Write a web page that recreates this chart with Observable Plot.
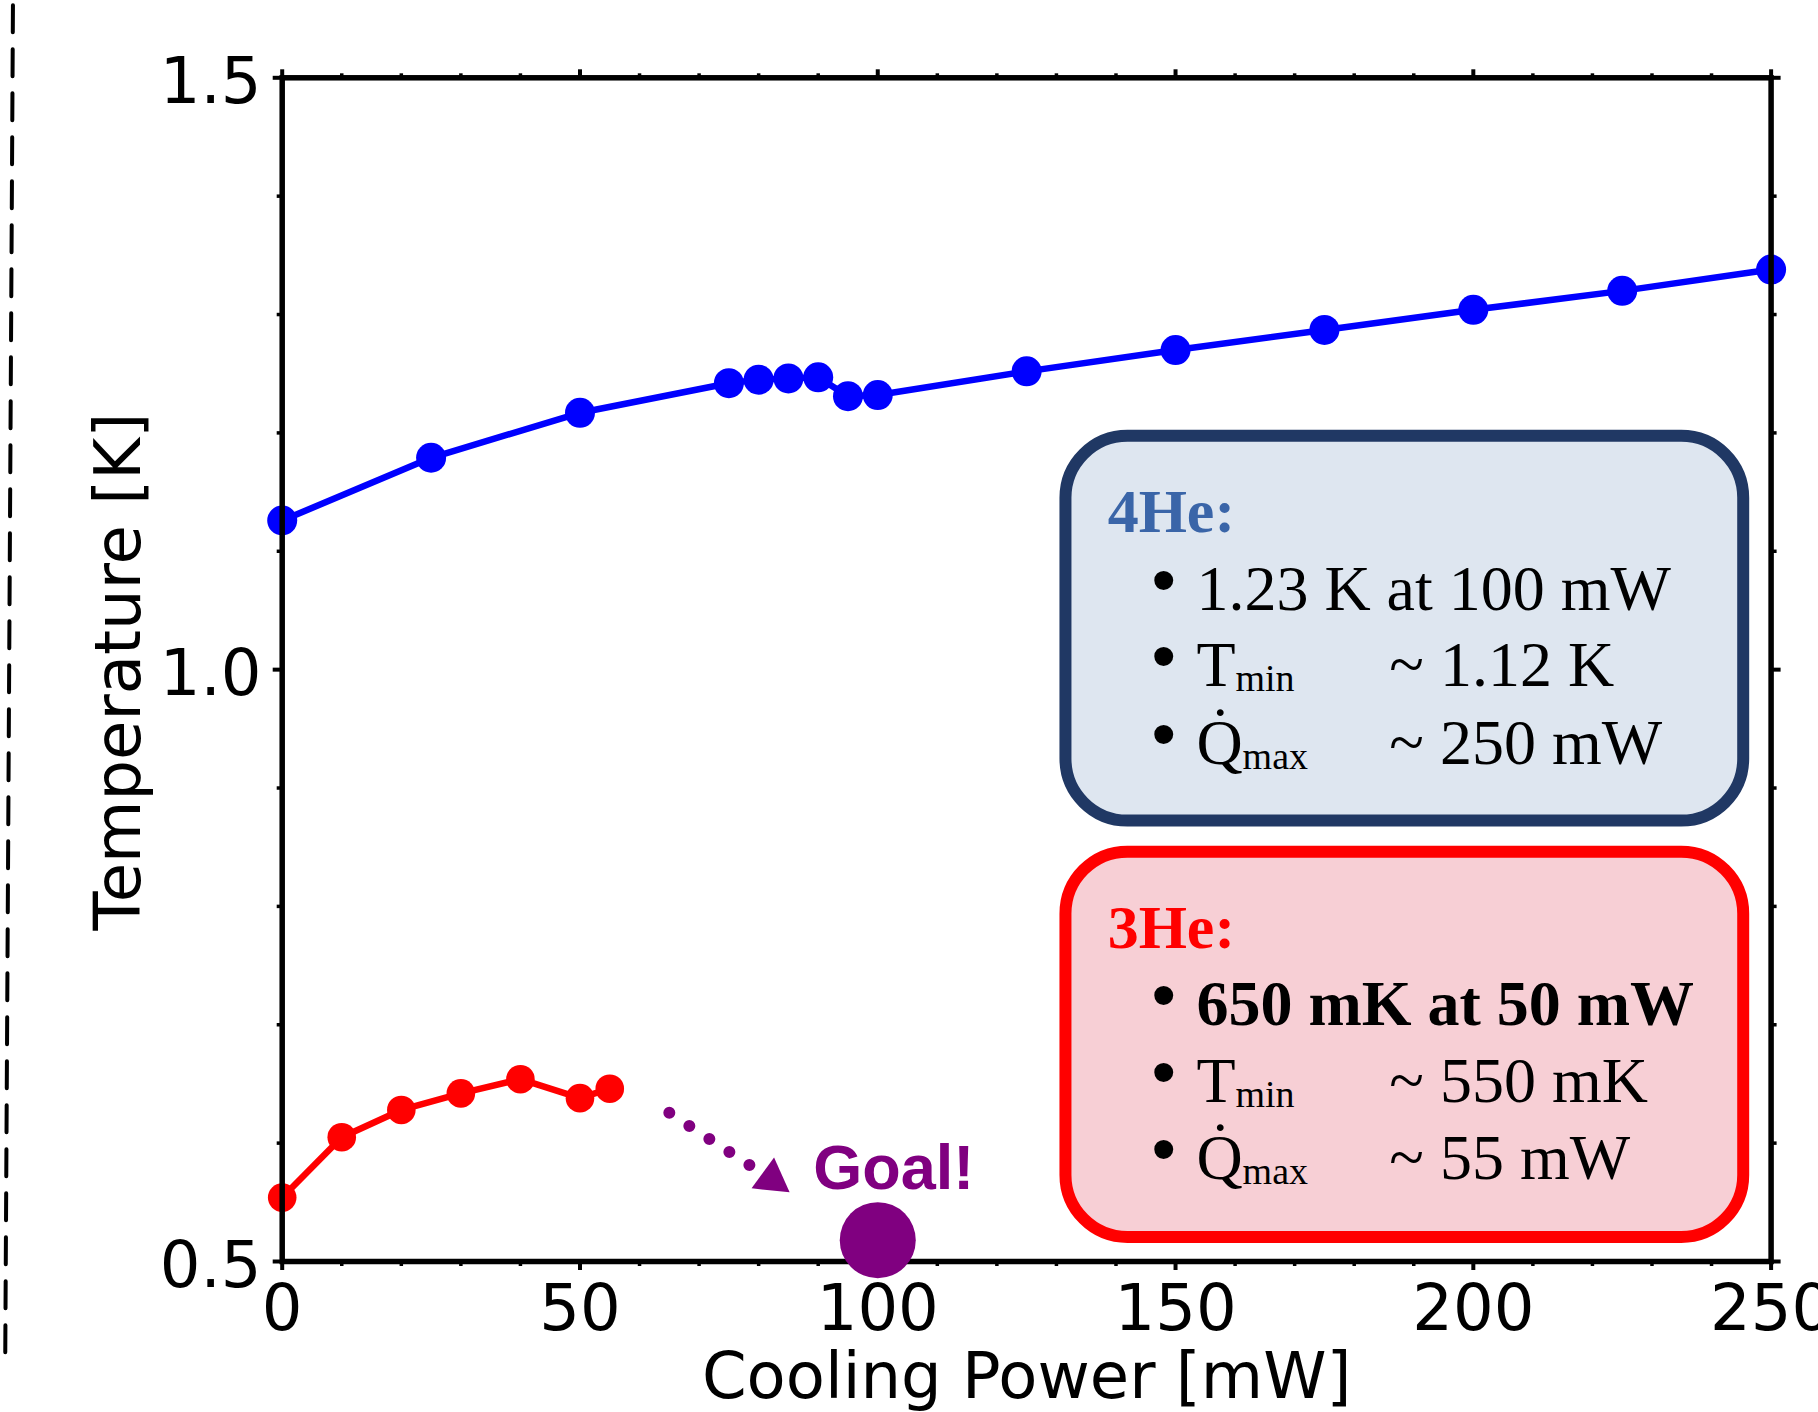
<!DOCTYPE html>
<html>
<head>
<meta charset="utf-8">
<script src="https://cdn.jsdelivr.net/npm/d3@7"></script>
<script src="https://cdn.jsdelivr.net/npm/@observablehq/plot@0.6"></script>
<style>
  html, body { margin: 0; padding: 0; background: #fff; overflow: hidden; }
  #chart svg { display: block; }
</style>
</head>
<body>
<div id="chart"></div>
<script>
// ---- data ----
const powerHe4 = [0, 25, 50, 75, 80, 85, 90, 95, 100, 125, 150, 175, 200, 225, 250];
const tempHe4  = [1.126, 1.179, 1.217, 1.242, 1.245, 1.246, 1.247, 1.231, 1.232, 1.252, 1.270, 1.287, 1.304, 1.320, 1.338];
const powerHe3 = [0, 10, 20, 30, 40, 50, 55];
const tempHe3  = [0.554, 0.605, 0.628, 0.642, 0.654, 0.638, 0.646];
const goalPower = [100];
const goalTemp  = [0.518];
const goalText  = ["Goal!"];
const goalTextPos = [89.15, 0.5614];
const arrowPower = [65.0, 78.5];
const arrowTemp  = [0.6256, 0.5813];
const arrowHeadPos = [82.2, 0.5694];
const dashPower = [-46.5, -45.2];
const dashTemp  = [0.4234, 1.57];

const xTicksMajor = [0, 50, 100, 150, 200, 250];
const xTicksMinor = [10, 20, 30, 40, 60, 70, 80, 90, 110, 120, 130, 140, 160, 170, 180, 190, 210, 220, 230, 240];
const yTicksMajor = [0.5, 1.0, 1.5];
const yTicksMinor = [0.6, 0.7, 0.8, 0.9, 1.1, 1.2, 1.3, 1.4];
const xLabel = ["Cooling Power [mW]"];
const yLabel = ["Temperature [K]"];

// annotation boxes (data coordinates)
const boxNames   = ["4He:", "3He:"];
const boxX1      = [131.6, 131.6];
const boxX2      = [245.4, 245.4];
const boxTop     = [1.1971, 0.8458];
const boxBottom  = [0.8721, 0.5203];
const boxFill    = ["#dee6f0", "#f7cfd5"];
const boxStroke  = ["#203864", "#ff0000"];
const titleColor = ["#3a65a8", "#ff0000"];
const titleTemp  = [1.1161, 0.7648];
const titlePower = 138.6;
const bulletPower = 148.0;
const labelPower  = 153.5;
const valuePower  = 185.9;
const lineLabels = ["1.23 K at 100 mW", "T_min", "Q\u0307_max", "650 mK at 50 mW", "T_min", "Q\u0307_max"];
const lineValues = ["", "~ 1.12 K", "~ 250 mW", "", "~ 550 mK", "~ 55 mW"];
const lineTemp   = [1.0506, 0.9860, 0.9205, 0.6994, 0.6346, 0.5699];
const lineBold   = [false, false, false, true, false, false];

// ---- tables ----
const he4 = powerHe4.map((p, i) => ({power: p, temp: tempHe4[i]}));
const he3 = powerHe3.map((p, i) => ({power: p, temp: tempHe3[i]}));
const goal = goalPower.map((p, i) => ({power: p, temp: goalTemp[i]}));
const arrow = arrowPower.map((p, i) => ({power: p, temp: arrowTemp[i]}));
const dash = dashPower.map((p, i) => ({power: p, temp: dashTemp[i]}));
const boxes = boxNames.map((n, i) => ({name: n, x1: boxX1[i], x2: boxX2[i], y1: boxBottom[i], y2: boxTop[i],
  fill: boxFill[i], stroke: boxStroke[i], color: titleColor[i], ty: titleTemp[i]}));
const lines = lineLabels.map((l, i) => ({label: l, value: lineValues[i], temp: lineTemp[i], bold: lineBold[i]}));

const serif = "Liberation Serif";
const fs = 64;

const chart = Plot.plot({
  width: 1818,
  height: 1412,
  marginLeft: 281.7,
  marginRight: 47.4,
  marginTop: 77.3,
  marginBottom: 151,
  x: {domain: [0, 250], label: null},
  y: {domain: [0.5, 1.5], label: null},
  style: {fontFamily: "DejaVu Sans", background: "#fff", overflow: "hidden"},
  marks: [
    // dashed separator at far left
    Plot.line(dash, {x: "power", y: "temp", stroke: "black", strokeWidth: 4, strokeDasharray: "27 17", strokeLinecap: "round"}),
    // data
    Plot.line(he4, {x: "power", y: "temp", stroke: "#0000ff", strokeWidth: 6.5}),
    Plot.dot(he4, {x: "power", y: "temp", r: 15, fill: "#0000ff"}),
    Plot.line(he3, {x: "power", y: "temp", stroke: "#ff0000", strokeWidth: 6.5}),
    Plot.dot(he3, {x: "power", y: "temp", r: 14.3, fill: "#ff0000"}),
    Plot.frame({stroke: "black", strokeWidth: 5.5}),
    // bottom axis
    Plot.axisX({anchor: "bottom", ticks: xTicksMajor, tickSize: 9, tickPadding: 14.5, fontSize: fs, strokeWidth: 4, tickFormat: d3.format("d"), label: null}),
    Plot.axisX({anchor: "bottom", ticks: xTicksMinor, tickSize: 5, strokeWidth: 3.5, tickFormat: () => "", label: null}),
    // top axis
    Plot.axisX({anchor: "top", ticks: xTicksMajor, tickSize: 9, strokeWidth: 4, tickFormat: () => "", label: null}),
    Plot.axisX({anchor: "top", ticks: xTicksMinor, tickSize: 5, strokeWidth: 3.5, tickFormat: () => "", label: null}),
    // left axis
    Plot.axisY({anchor: "left", ticks: yTicksMajor, tickSize: 9, strokeWidth: 4, tickFormat: () => "", label: null}),
    Plot.axisY({anchor: "left", ticks: yTicksMinor, tickSize: 5, strokeWidth: 3.5, tickFormat: () => "", label: null}),
    Plot.axisY({anchor: "left", ticks: yTicksMajor, tickSize: 0, tickPadding: 20.7, fontSize: fs, dy: 5, tickFormat: d3.format(".1f"), label: null}),
    // right axis
    Plot.axisY({anchor: "right", ticks: yTicksMajor, tickSize: 9, strokeWidth: 4, tickFormat: () => "", label: null}),
    Plot.axisY({anchor: "right", ticks: yTicksMinor, tickSize: 5, strokeWidth: 3.5, tickFormat: () => "", label: null}),
    // axis titles
    Plot.text(xLabel, {frameAnchor: "bottom", text: d => d, textAnchor: "middle", lineAnchor: "top", dy: 91, fontSize: fs}),
    Plot.text(yLabel, {frameAnchor: "left", text: d => d, rotate: -90, textAnchor: "middle", lineAnchor: "bottom", dx: -142, dy: 2, fontSize: fs}),
    // goal
    Plot.line(arrow, {x: "power", y: "temp", stroke: "#800080", strokeWidth: 12, strokeDasharray: "0 23.9", strokeLinecap: "round"}),
    Plot.dot([arrowHeadPos], {x: d => d[0], y: d => d[1], symbol: "triangle", r: 14.2, fill: "#800080", rotate: 6}),
    Plot.dot(goal, {x: "power", y: "temp", r: 38, fill: "#800080"}),
    Plot.text(goalText, {x: () => goalTextPos[0], y: () => goalTextPos[1], text: d => d, textAnchor: "start", lineAnchor: "bottom",
      fontFamily: "Liberation Sans", fontWeight: "bold", fontSize: 63, fill: "#800080"}),
    // info boxes
    ...boxes.map(b => Plot.rect([b], {x1: "x1", x2: "x2", y1: "y1", y2: "y2", fill: b.fill, stroke: b.stroke, strokeWidth: 12, rx: 62})),
    ...boxes.map(b => Plot.text([b], {x: () => titlePower, y: "ty", text: "name", textAnchor: "start", lineAnchor: "bottom",
      fontFamily: serif, fontWeight: "bold", fontSize: 62, fill: b.color})),
    Plot.text(lines, {x: () => bulletPower, y: "temp", text: () => "\u2022", textAnchor: "middle", lineAnchor: "bottom",
      fontFamily: "Liberation Sans", fontSize: 70, dy: -6, fill: "black"}),
    Plot.text(lines.filter(d => !d.bold), {x: () => labelPower, y: "temp", text: "label", textAnchor: "start", lineAnchor: "bottom",
      fontFamily: serif, fontSize: fs, fill: "black"}),
    Plot.text(lines.filter(d => d.bold), {x: () => labelPower, y: "temp", text: "label", textAnchor: "start", lineAnchor: "bottom",
      fontFamily: serif, fontWeight: "bold", fontSize: fs, fill: "black"}),
    Plot.text(lines.filter(d => d.value), {x: () => valuePower, y: "temp", text: "value", textAnchor: "start", lineAnchor: "bottom",
      fontFamily: serif, fontSize: fs, fill: "black"})
  ]
});

// subscripts: "T_min" -> T with subscript "min"
d3.select(chart).selectAll("text").each(function () {
  const t = this.textContent;
  if (!t.includes("_")) return;
  const [main, sub] = t.split("_");
  const s = d3.select(this);
  s.text(null);
  s.append("tspan").text(main);
  s.append("tspan").attr("font-size", 38).attr("dy", 5).text(sub);
});

document.getElementById("chart").appendChild(chart);
</script>
</body>
</html>
